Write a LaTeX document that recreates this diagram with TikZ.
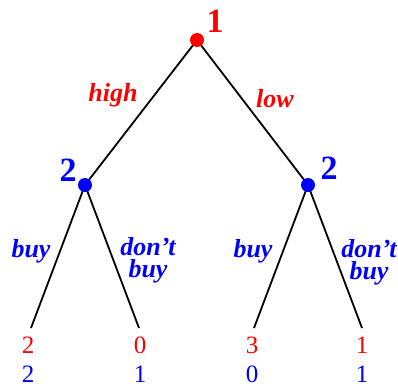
\documentclass[tikz,border=0pt]{standalone}
\usepackage{fontspec}
\setmainfont{Liberation Serif}
\begin{document}
\begin{tikzpicture}[x=1pt,y=-1pt,
  edge/.style={line width=1.8pt,black},
  dot/.style={circle,inner sep=0pt,minimum size=14pt},
  pl/.style={font=\fontsize{34}{34}\selectfont\bfseries,anchor=base},
  act/.style={font=\fontsize{26}{22}\selectfont\bfseries\itshape,anchor=base},
  pay/.style={font=\fontsize{25}{25}\selectfont,anchor=base,text depth=0pt,inner sep=1pt}]
\useasboundingbox (0,0) rectangle (398,385);
\clip (0,0) rectangle (398,385);
% decision nodes
\coordinate (r) at (197,40);
\coordinate (a) at (85,185);
\coordinate (b) at (308,185);
\coordinate (l1) at (31,328);
\coordinate (l2) at (139,328);
\coordinate (l3) at (254,328);
\coordinate (l4) at (362,328);
\draw[edge] (r) -- (a);
\draw[edge] (r) -- (b);
\draw[edge] (a) -- (l1);
\draw[edge] (a) -- (l2);
\draw[edge] (b) -- (l3);
\draw[edge] (b) -- (l4);
\node[dot,fill=red] (rd) at (r) {};
\node[dot,fill=blue] (ad) at (a) {};
\node[dot,fill=blue] (bd) at (b) {};
% player labels
\node[pl,red] (p1) at (215,33) {1};
\node[pl,blue] (p2a) at (68,181) {2};
\node[pl,blue] (p2b) at (329,179) {2};
% action labels
\node[act,red] (hi) at (113,102) {high};
\node[act,red] (lo) at (275,107) {low};
\node[act,blue] (b1) at (31,257) {buy};
\node[act,blue,align=center] (d1) at (148,277) {don't\\buy};
\node[act,blue] (b2) at (253,257) {buy};
\node[act,blue,align=center] (d2) at (369,279) {don't\\buy};
% payoffs
\node[pay,red] (u1) at (28,353) {2};
\node[pay,red] (u2) at (140,353) {0};
\node[pay,red] (u3) at (252,353) {3};
\node[pay,red] (u4) at (362,353) {1};
\node[pay,blue] (v1) at (28,382) {2};
\node[pay,blue] (v2) at (140,382) {1};
\node[pay,blue] (v3) at (252,382) {0};
\node[pay,blue] (v4) at (362,382) {1};
\end{tikzpicture}
\end{document}
